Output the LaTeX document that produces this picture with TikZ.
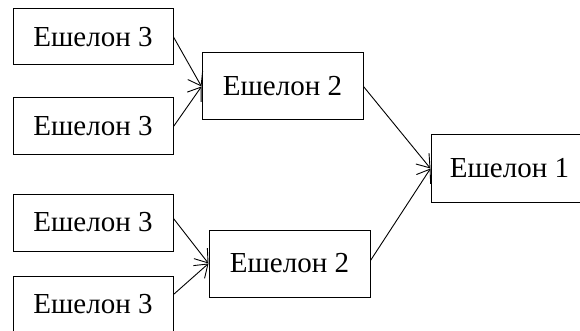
\documentclass[tikz,border=0pt]{standalone}
\usepackage{fontspec}
\setmainfont{Liberation Serif}
\usetikzlibrary{arrows.meta,calc}
\begin{document}
\begin{tikzpicture}[x=1pt,y=-1pt,
  box/.style={draw,line width=1pt,inner sep=0pt,font=\fontsize{29}{34}\selectfont},
  conn/.style={line width=0.9pt,-{Straight Barb[length=12pt,width=17pt,line width=0.9pt]}}]
\useasboundingbox (0,0) rectangle (580,331);
\node[box,minimum width=160pt,minimum height=56pt] (a) at (93,37) {Ешелон 3};
\node[box,minimum width=160pt,minimum height=57pt] (b) at (93,126.5) {Ешелон 3};
\node[box,minimum width=161pt,minimum height=67pt] (c) at (282.5,86.5) {Ешелон 2};
\node[box,minimum width=160pt,minimum height=57pt] (d) at (93,222.5) {Ешелон 3};
\node[box,minimum width=160pt,minimum height=57pt] (e) at (93,304.5) {Ешелон 3};
\node[box,minimum width=161pt,minimum height=67pt] (f) at (289.5,263.5) {Ешелон 2};
\node[box,minimum width=157pt,minimum height=67pt] (g) at (509.5,168.5) {Ешелон 1};
\draw[conn] (a.east) -- (c.west);
\draw[conn] (b.east) -- (c.west);
\draw[conn] ($(d.east)+(0,-4)$) -- (f.west);
\draw[conn] ($(e.north east)+(0,19)$) -- (f.west);
\draw[conn] (c.east) -- (g.west);
\draw[conn] ($(f.east)+(0,-3)$) -- (g.west);
\end{tikzpicture}
\end{document}
